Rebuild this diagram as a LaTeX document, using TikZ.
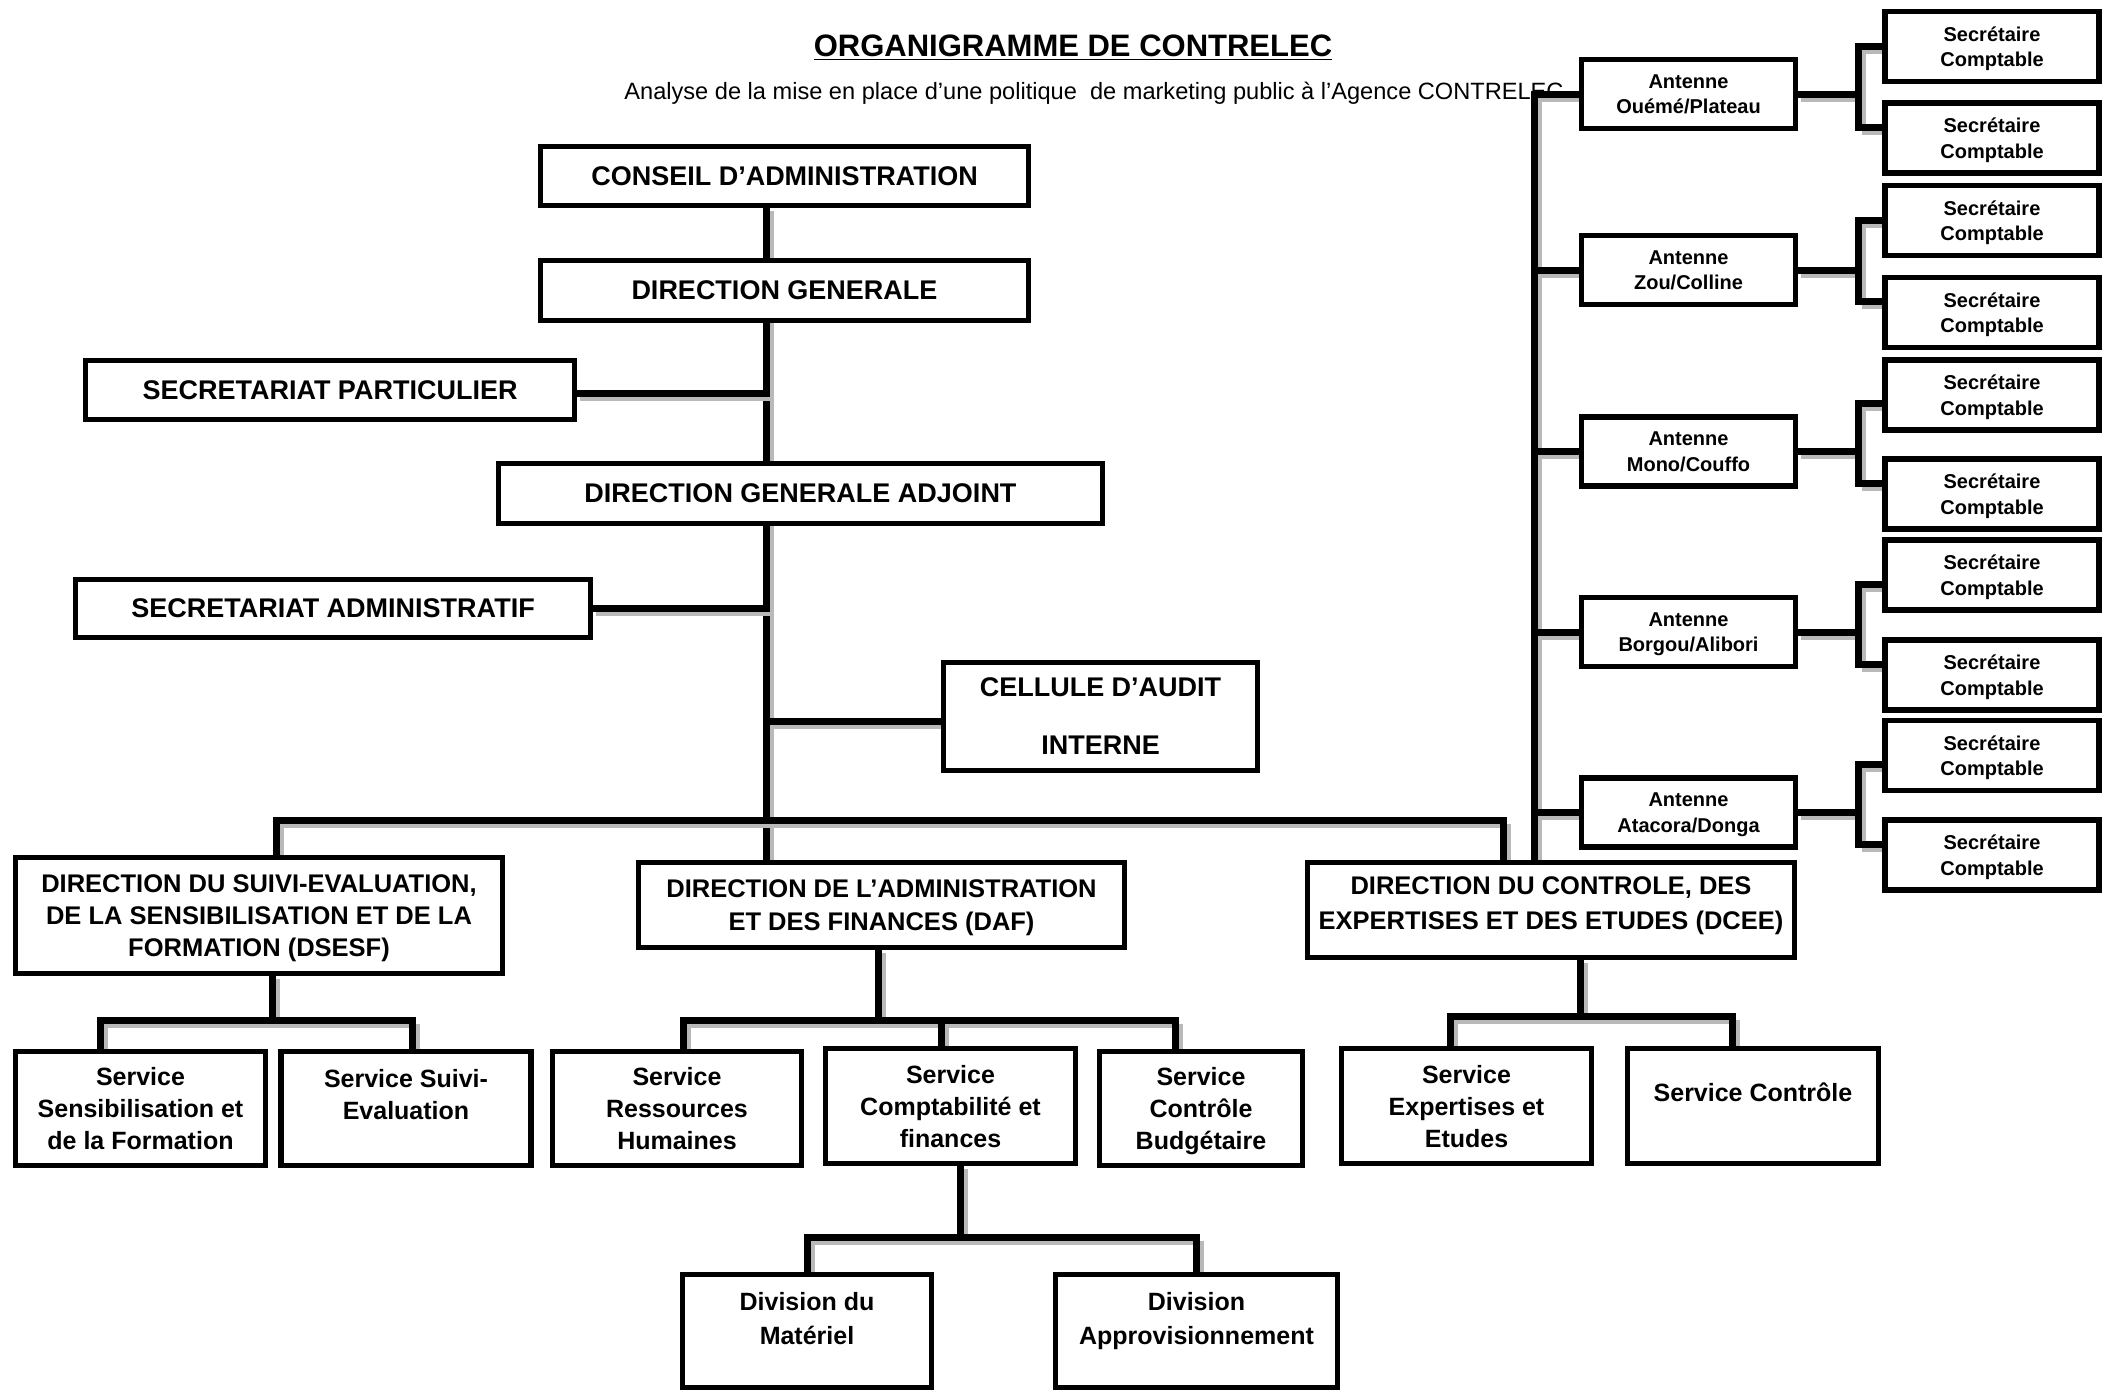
\documentclass[tikz,border=0pt]{standalone}
\usepackage{fontspec}
\setmainfont{Liberation Sans}
\usetikzlibrary{backgrounds}
\begin{document}
\begin{tikzpicture}[x=0.5pt,y=-0.5pt,
  box/.style={draw, line width=2.7pt, fill=white, inner sep=0pt, outer sep=0pt, align=center, text depth=0pt},
  fbig/.style={font=\bfseries\fontsize{13.5}{16}\selectfont},
  fmid/.style={font=\bfseries\fontsize{12.75}{16.5}\selectfont},
  fsrv/.style={font=\bfseries\fontsize{12.5}{16}\selectfont},
  fsml/.style={font=\bfseries\fontsize{10}{12.75}\selectfont},
  txt/.style={inner sep=0pt, align=center, text depth=0pt},
  conn/.style={line width=3.5pt, line cap=rect, line join=miter,
    preaction={draw=gray!55, line width=2pt, transform canvas={shift={(2.75pt,-2.75pt)}}}},
  bsz/.style 2 args={minimum width=#1pt, minimum height=#2pt}
]
\useasboundingbox (0,0) rectangle (2108,1393);

% title
\node[font=\bfseries\fontsize{15.5}{18}\selectfont, anchor=base, inner sep=0pt] (title) at (1073,56) {\underline{ORGANIGRAMME DE CONTRELEC}};

% main column
\node[box,fbig,bsz={243.9}{29.4}] (cons) at (784.5,176) {CONSEIL D’ADMINISTRATION};
\node[box,fbig,bsz={243.9}{29.9}] (dg) at (784.5,290.5) {DIRECTION GENERALE};
\node[box,fbig,bsz={244.4}{29.4}] (secp) at (330,390) {SECRETARIAT PARTICULIER};
\node[box,fbig,bsz={301.9}{29.9}] (dga) at (800.5,493.5) {DIRECTION GENERALE ADJOINT};
\node[box,fbig,bsz={257.4}{28.9}] (seca) at (333,608.5) {SECRETARIAT ADMINISTRATIF};
\node[box,font=\bfseries\fontsize{13.5}{29}\selectfont,bsz={156.9}{53.9}] (cell) at (1100.5,716.5) {CELLULE D’AUDIT\\INTERNE};

% directions
\node[box,font=\bfseries\fontsize{12.75}{16}\selectfont,bsz={243.4}{57.9}] (dsesf) at (259,915.5) {DIRECTION DU SUIVI-EVALUATION,\\DE LA SENSIBILISATION ET DE LA\\FORMATION (DSESF)};
\node[box,fmid,bsz={242.9}{42.4}] (daf) at (881.5,905) {DIRECTION DE L’ADMINISTRATION\\ET DES FINANCES (DAF)};
\node[box,bsz={243.4}{47.4}] (dcee) at (1551,910) {};
\node[txt,font=\bfseries\fontsize{12.75}{17.5}\selectfont] (dceeT) at (1551,903) {DIRECTION DU CONTROLE, DES\\EXPERTISES ET DES ETUDES (DCEE)};

% services
\node[box,fsrv,bsz={124.9}{56.9}] (s1) at (140.5,1108.5) {Service\\Sensibilisation et\\de la Formation};
\node[box,bsz={124.9}{56.9}] (s2) at (406,1108.5) {};
\node[txt,fsrv] (s2T) at (406,1094) {Service Suivi-\\Evaluation};
\node[box,fsrv,bsz={124.4}{56.9}] (s3) at (677,1108.5) {Service\\Ressources\\Humaines};
\node[box,fsrv,bsz={124.9}{57.4}] (s4) at (950.5,1106) {Service\\Comptabilité et\\finances};
\node[box,fsrv,bsz={101.4}{56.9}] (s5) at (1201,1108.5) {Service\\Contrôle\\Budgétaire};
\node[box,fsrv,bsz={124.9}{57.4}] (s6) at (1466.5,1106) {Service\\Expertises et\\Etudes};
\node[box,bsz={125.4}{57.4}] (s7) at (1753,1106) {};
\node[txt,fsrv] (s7T) at (1753,1092) {Service Contrôle};

% divisions
\node[box,bsz={124.4}{56.4}] (d1) at (807,1331) {};
\node[txt,font=\bfseries\fontsize{12.5}{17}\selectfont] (d1T) at (807,1318) {Division du\\Matériel};
\node[box,bsz={140.9}{56.4}] (d2) at (1196.5,1331) {};
\node[txt,font=\bfseries\fontsize{12.5}{17}\selectfont] (d2T) at (1196.5,1318) {Division\\Approvisionnement};

% antennes
\node[box,fsml,bsz={106.9}{34.4}] (a1) at (1688.5,94) {Antenne\\Ouémé/Plateau};
\node[box,fsml,bsz={106.9}{34.4}] (a2) at (1688.5,270) {Antenne\\Zou/Colline};
\node[box,fsml,bsz={106.9}{34.4}] (a3) at (1688.5,451.5) {Antenne\\Mono/Couffo};
\node[box,fsml,bsz={106.9}{34.4}] (a4) at (1688.5,632) {Antenne\\Borgou/Alibori};
\node[box,fsml,bsz={106.9}{34.4}] (a5) at (1688.5,812.5) {Antenne\\Atacora/Donga};

% secretaires
\foreach \i/\y in {1/46.5,2/138,3/220.5,4/312.5,5/395,6/494,7/575,8/675,9/755.5,10/855}
  \node[box,fsml,bsz={106.9}{34.9}] (sc\i) at (1992,\y) {Secrétaire\\Comptable};

\begin{pgfonlayer}{background}
\fill[white] (0,0) rectangle (2108,1393);
\node[font=\fontsize{11.8}{14}\selectfont, anchor=base west, inner sep=0pt] (sub) at (624,99) {Analyse de la mise en place d’une politique\ \ de marketing public à l’Agence CONTRELEC};

% trunk
\coordinate (tr) at (766,0);
\draw[conn] (cons.south -| tr) -- (daf.north -| tr);
\coordinate (secpE) at ([yshift=-1.5pt]secp.east);
\draw[conn] (secpE) -- (secpE -| tr);
\draw[conn] (seca.east) -- (seca.east -| tr);
\coordinate (cellW) at ([yshift=-2.5pt]cell.west);
\draw[conn] (cellW) -- (cellW -| tr);

% main bus
\coordinate (b1) at (276,820);
\coordinate (b3) at (1503,820);
\draw[conn] (dsesf.north -| b1) -- (b1) -- (b3) -- (dcee.north -| b3);

% antennes line
\coordinate (ax) at (1534,0);
\draw[conn] (a1.west) -- (a1.west -| ax) -- (dcee.north -| ax);
\foreach \k in {2,...,5} \draw[conn] (a\k.west) -- (a\k.west -| ax);

% brackets to secretaires
\coordinate (bk) at (1858,0);
\foreach \k/\u/\l/\o in {1/1/2/0,2/3/4/0,3/5/6/-4,4/7/8/-4.5,5/9/10/-4.5}{
  \draw[conn] (a\k.east) -- (a\k.east -| bk);
  \coordinate (up) at ([yshift=\o pt]sc\u.west);
  \coordinate (lo) at ([yshift=5.5pt]sc\l.west);
  \draw[conn] (up) -- (up -| bk) -- (lo -| bk) -- (lo);
}

% DSESF branch
\coordinate (c1) at (272,1020);
\coordinate (p1) at (100,1020);
\coordinate (p2) at (412,1020);
\draw[conn] (dsesf.south -| c1) -- (c1);
\draw[conn] (s1.north -| p1) -- (p1) -- (p2) -- (s2.north -| p2);

% DAF branch
\coordinate (q0) at (878,1020);
\coordinate (q1) at (683,1020);
\coordinate (q2) at (941,1020);
\coordinate (q3) at (1175,1020);
\draw[conn] (daf.south -| q0) -- (q0);
\draw[conn] (s3.north -| q1) -- (q1) -- (q3) -- (s5.north -| q3);
\draw[conn] (q2) -- (s4.north -| q2);

% Comptabilite branch
\coordinate (r0) at (960,1237);
\coordinate (r1) at (807,1237);
\coordinate (r2) at (1196,1237);
\draw[conn] (s4.south -| r0) -- (r0);
\draw[conn] (d1.north -| r1) -- (r1) -- (r2) -- (d2.north -| r2);

% DCEE branch
\coordinate (t0) at (1580,1016);
\coordinate (t1) at (1450,1016);
\coordinate (t2) at (1732,1016);
\draw[conn] (dcee.south -| t0) -- (t0);
\draw[conn] (s6.north -| t1) -- (t1) -- (t2) -- (s7.north -| t2);
\end{pgfonlayer}
\end{tikzpicture}
\end{document}
